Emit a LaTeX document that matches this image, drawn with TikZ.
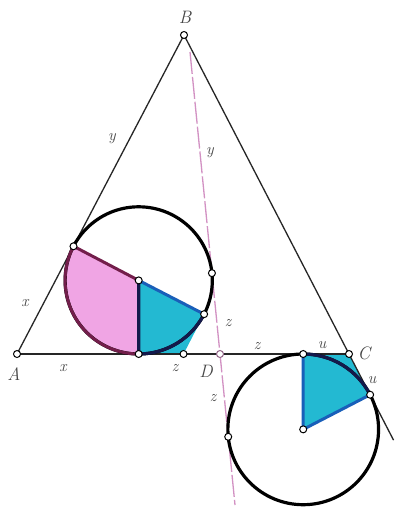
\documentclass[tikz,border=0pt]{standalone}
\usetikzlibrary{calc}
\definecolor{pinkfill}{RGB}{240,165,228}
\definecolor{cyanfill}{RGB}{35,185,210}
\definecolor{sectblue}{RGB}{25,95,185}
\definecolor{navy}{RGB}{20,25,75}
\definecolor{maroon}{RGB}{115,30,75}
\definecolor{pinkline}{RGB}{210,145,195}
\definecolor{labelgray}{RGB}{70,70,70}
\begin{document}
\begin{tikzpicture}[x=1pt,y=1pt,
  ptmark/.style={circle,draw=black,fill=white,line width=1pt,inner sep=0pt,minimum size=7pt},
  lab/.style={text=labelgray,font=\fontsize{16}{16}\selectfont\itshape,inner sep=0pt},
  caplab/.style={text=labelgray,font=\fontsize{18}{18}\selectfont\itshape,inner sep=0pt},
  triline/.style={line width=1.3pt,black!85},
  circline/.style={line width=3.2pt,black},
  bisline/.style={line width=1.3pt,pinkline,dash pattern=on 22pt off 3pt},
]
\fill[white] (0,0) rectangle (395,-510);
\useasboundingbox (0,0) rectangle (395,-510);
% main points
\coordinate (A) at (17,-354);
\coordinate (B) at (184,-35);
\coordinate (C) at (349,-354);
\coordinate (D) at (220,-354);
\coordinate (S) at (190,-52);
\coordinate (E) at (235,-505);
\coordinate (Cx) at ($(B)!1.27!(C)$);
% circle 1
\coordinate (O1) at (138.7,-280.4);
\coordinate (P1) at ($(O1)+(152.36:73.6)$);
\coordinate (T1) at ($(O1)+(270:73.6)$);
\coordinate (M1) at ($(O1)+(5.67:73.6)$);
\coordinate (Q1) at ($(O1)+(-27.3:73.6)$);
\coordinate (R1) at ($(O1)+(-58.65:86.18)$);
% circle 2
\coordinate (O2) at (303.2,-429.35);
\coordinate (T2) at ($(O2)+(90:75.35)$);
\coordinate (P2) at ($(O2)+(27.35:75.35)$);
\coordinate (M2) at ($(O2)+(185.67:75.35)$);
% fills
\fill[pinkfill] (O1) -- (P1) arc[start angle=152.36,end angle=270,radius=73.6] -- cycle;
\fill[cyanfill] (O1) -- (Q1) -- (R1) -- (T1) -- cycle;
\fill[cyanfill] (O2) -- (T2) -- (C) -- (P2) -- cycle;
% triangle and bisector
\draw[bisline] (S) -- (D) -- (E);
\draw[triline] (A) -- (B) -- (Cx);
\draw[triline] (A) -- (C);
% circles
\draw[circline] (O1) circle[radius=73.6];
\draw[circline] (O2) circle[radius=75.35];
% sector edges
\draw[line width=3pt,maroon] (O1) -- (P1) arc[start angle=152.36,end angle=268,radius=73.6];
\draw[line width=3.2pt,navy] (O1) -- (T1) arc[start angle=270,end angle=332.7,radius=73.6];
\draw[line width=3pt,sectblue] (O1) -- (Q1);
\draw[line width=3.2pt,navy] (T2) arc[start angle=90,end angle=27.35,radius=75.35];
\draw[line width=3pt,sectblue] (P2) -- (O2) -- (T2);
% point markers
\foreach \p in {A,B,C,T1,O1,P1,M1,Q1,R1,T2,O2,P2,M2}
  \node[ptmark] at (\p) {};
\node[ptmark,draw=pinkline!70!black] at (D) {};
% labels
\node[caplab] (lA) at (14,-374) {A};
\node[caplab] (lB) at (185,-17) {B};
\node[caplab] (lC) at (364,-353) {C};
\node[caplab] (lD) at (206,-371) {D};
\node[lab] (x1) at (25,-303) {x};
\node[lab] (x2) at (63,-368) {x};
\node[lab] (y1) at (112,-139) {y};
\node[lab] (y2) at (210,-153) {y};
\node[lab] (z1) at (228,-323) {z};
\node[lab] (z2) at (257,-346) {z};
\node[lab] (z3) at (175,-368) {z};
\node[lab] (z4) at (213,-398) {z};
\node[lab] (u1) at (322,-345) {u};
\node[lab] (u2) at (372,-380) {u};
\end{tikzpicture}
\end{document}
